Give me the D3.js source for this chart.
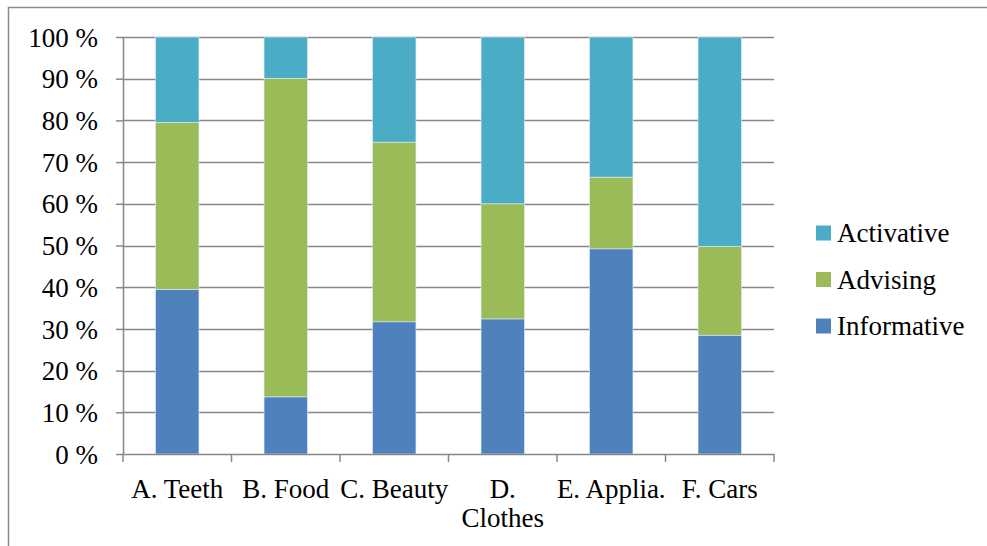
<!DOCTYPE html>
<html><head><meta charset="utf-8">
<script src="https://cdn.jsdelivr.net/npm/d3@7"></script>
<style>body{margin:0;background:#fff}svg{display:block}</style>
</head><body>
<script>
const categories = ["A. Teeth","B. Food","C. Beauty","D. Clothes","E. Applia.","F. Cars"];
const informative = [39.5, 13.7, 31.7, 32.4, 49.2, 28.5];
const advising    = [40.0, 76.4, 43.1, 27.6, 17.2, 21.3];
const activative  = [20.5, 9.9, 25.2, 40.0, 33.6, 50.2];
const seriesNames = ["Informative","Advising","Activative"];
const seriesColors = ["#4F81BD","#9BBB59","#4BACC6"];
const yTicks = [0,10,20,30,40,50,60,70,80,90,100];

(function(){
const W=987,H=546;
const svg=d3.select("body").append("svg").attr("width",W).attr("height",H);
const font="'Liberation Serif', 'DejaVu Serif', serif";
const fs=27;
svg.append("rect").attr("x",8.5).attr("y",7.5).attr("width",W+10).attr("height",H+10)
  .attr("fill","none").attr("stroke","#8a8a8a").attr("stroke-width",1.5);

const pL=123,pR=774,pT=37,pB=454;
const x=d3.scaleBand().domain(categories).range([pL,pR]).paddingInner(0.6).paddingOuter(0.3);
const xb=d3.scaleBand().domain(categories).range([pL,pR]);
const y=d3.scaleLinear().domain([0,100]).range([pB,pT]);

svg.append("g").selectAll("line").data(yTicks.filter(d=>d>0)).join("line")
  .attr("x1",pL).attr("x2",pR).attr("y1",d=>Math.round(y(d))+0.5).attr("y2",d=>Math.round(y(d))+0.5)
  .attr("stroke","#888").attr("stroke-width",1.5);

const rows=categories.map((c,i)=>({cat:c,Informative:informative[i],Advising:advising[i],Activative:activative[i]}));
const stack=d3.stack().keys(seriesNames)(rows);
svg.append("g").selectAll("g").data(stack).join("g").attr("fill",(d,i)=>seriesColors[i])
  .selectAll("rect").data(d=>d).join("rect")
  .attr("x",d=>x(d.data.cat)).attr("width",x.bandwidth())
  .attr("y",d=>y(d[1])).attr("height",d=>y(d[0])-y(d[1]))
  .attr("stroke","#dfeef5").attr("stroke-width",0.6);

const ya=svg.append("g").attr("transform",`translate(${pL},0)`)
  .call(d3.axisLeft(y).tickValues(yTicks).tickFormat(d=>d+" %").tickSize(7).tickSizeOuter(0));
ya.select(".domain").attr("stroke","#888").attr("stroke-width",1.5);
ya.selectAll(".tick line").attr("stroke","#888").attr("stroke-width",1.5);
ya.selectAll("text").attr("font-family",font).attr("font-size",fs).attr("fill","#000").attr("x",-25).attr("dy","0.34em");

const xa=svg.append("g").attr("transform",`translate(0,${pB})`)
  .call(d3.axisBottom(xb).tickSize(0).tickSizeOuter(0));
xa.select(".domain").attr("stroke","#888").attr("stroke-width",1.5);
xa.selectAll(".tick text").remove();
xa.selectAll(".tick line").remove();
const edges=categories.map(c=>xb(c)).concat([pR]);
xa.selectAll("line.sep").data(edges).join("line").attr("class","sep")
  .attr("x1",d=>d).attr("x2",d=>d).attr("y1",0).attr("y2",8).attr("stroke","#888").attr("stroke-width",1.5);
categories.forEach(c=>{
  const cx=xb(c)+xb.bandwidth()/2;
  const parts = c==="D. Clothes" ? ["D.","Clothes"] : [c];
  parts.forEach((p,j)=>{
    svg.append("text").attr("x",cx).attr("y",498+j*29).attr("text-anchor","middle")
      .attr("font-family",font).attr("font-size",fs).attr("fill","#000").text(p);
  });
});

const legendOrder=["Activative","Advising","Informative"];
const lg=svg.append("g");
legendOrder.forEach((n,i)=>{
  const cy=233+i*46.5;
  lg.append("rect").attr("x",816).attr("y",cy-7.5).attr("width",15).attr("height",15)
    .attr("fill",seriesColors[seriesNames.indexOf(n)]);
  lg.append("text").attr("x",837).attr("y",cy).attr("dy","0.34em")
    .attr("font-family",font).attr("font-size",fs).attr("fill","#000").text(n);
});
})();
</script>
</body></html>
